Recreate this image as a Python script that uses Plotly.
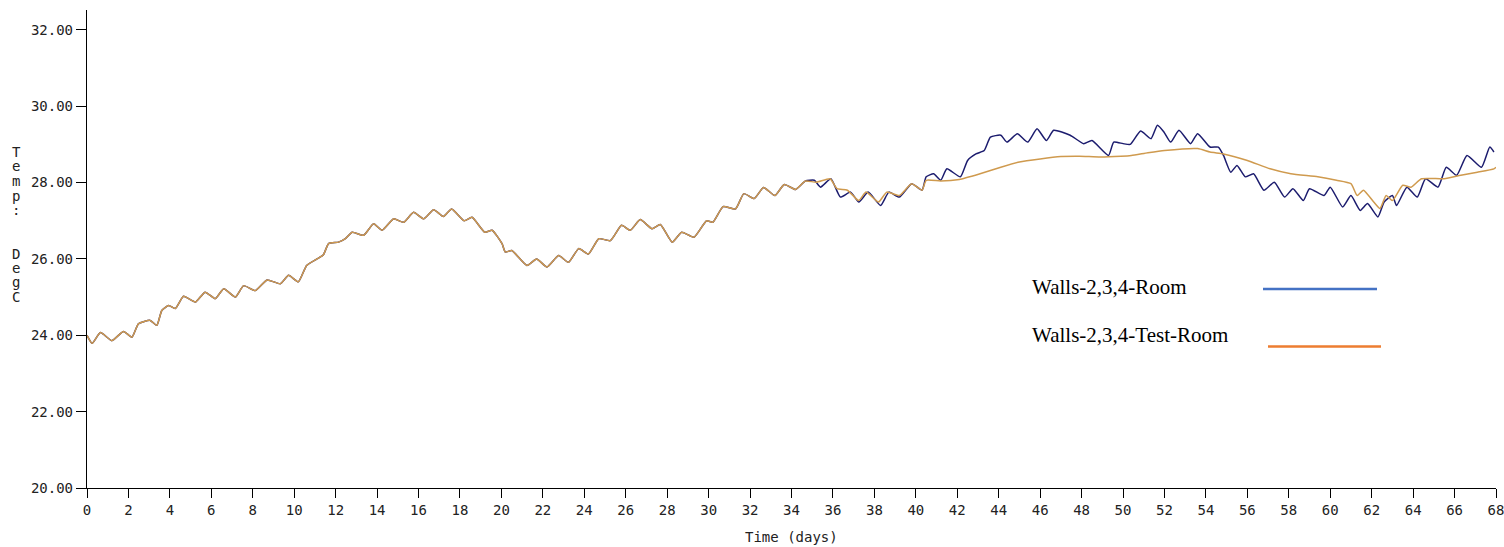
import plotly.graph_objects as go

# Temperature record shared by both rooms up to day ~34 (the curves coincide there)
shared_days = [0, 0.25, 0.65, 1.2, 1.76, 2.17, 2.48, 3.05, 3.37, 3.61, 3.94, 4.26, 4.66,
               5.23, 5.7, 6.19, 6.6, 7.16, 7.56, 8.12, 8.69, 9.33, 9.73, 10.2, 10.6, 11.1,
               11.4, 11.66, 12.14, 12.47, 12.8, 13.35, 13.83, 14.24, 14.8, 15.28, 15.76,
               16.25, 16.73, 17.2, 17.6, 18.2, 18.58, 19.2, 19.55, 20.03, 20.19, 20.5,
               21.23, 21.7, 22.2, 22.76, 23.24, 23.73, 24.2, 24.7, 25.26, 25.8, 26.22,
               26.7, 27.27, 27.67, 28.24, 28.7, 29.3, 29.9, 30.2, 30.7, 31.3, 31.7, 32.2,
               32.65, 33.2, 33.65, 34.2, 34.67]
shared_temp = [24.0, 23.79, 24.07, 23.86, 24.1, 23.95, 24.3, 24.39, 24.26, 24.65, 24.78,
               24.7, 25.02, 24.87, 25.13, 24.96, 25.22, 25.0, 25.3, 25.17, 25.45, 25.35,
               25.57, 25.4, 25.83, 26.0, 26.1, 26.4, 26.44, 26.53, 26.7, 26.62, 26.92,
               26.75, 27.05, 26.96, 27.22, 27.05, 27.29, 27.11, 27.31, 27.0, 27.09, 26.7,
               26.75, 26.4, 26.18, 26.22, 25.83, 26.0, 25.79, 26.09, 25.91, 26.27, 26.13,
               26.53, 26.48, 26.88, 26.75, 27.03, 26.79, 26.9, 26.44, 26.7, 26.57, 27.0,
               26.96, 27.37, 27.31, 27.71, 27.58, 27.87, 27.66, 27.95, 27.82, 28.04]

# Walls-2,3,4-Room after the curves separate
room_tail_days = [35.1, 35.4, 35.9, 36.36, 36.85, 37.25, 37.7, 38.3, 38.7, 39.2, 39.8,
                  40.3, 40.5, 40.86, 41.2, 41.5, 42.15, 42.5, 42.9, 43.3, 43.6, 44.1,
                  44.4, 44.9, 45.4, 45.85, 46.3, 46.65, 47.45, 48.1, 48.5, 49.3, 49.55,
                  50.0, 50.35, 50.85, 51.35, 51.66, 51.98, 52.3, 52.7, 53.26, 53.6, 54.2,
                  54.6, 54.85, 55.2, 55.5, 55.9, 56.3, 56.8, 57.3, 57.8, 58.2, 58.7, 59.0,
                  59.7, 60.0, 60.6, 61.0, 61.45, 61.8, 62.3, 62.6, 63.0, 63.2, 63.7, 64.2,
                  64.6, 65.2, 65.6, 66.1, 66.6, 67.3, 67.7, 67.9]
room_tail_temp = [28.06, 27.88, 28.1, 27.62, 27.75, 27.49, 27.75, 27.4, 27.75, 27.62,
                  27.97, 27.8, 28.15, 28.23, 28.06, 28.36, 28.15, 28.58, 28.75, 28.84,
                  29.19, 29.24, 29.06, 29.28, 29.06, 29.41, 29.1, 29.37, 29.24, 29.02,
                  29.1, 28.71, 29.06, 29.02, 29.0, 29.35, 29.15, 29.5, 29.32, 29.06,
                  29.37, 29.02, 29.28, 28.93, 28.93, 28.71, 28.27, 28.45, 28.15, 28.23,
                  27.8, 28.01, 27.62, 27.84, 27.53, 27.84, 27.66, 27.88, 27.36, 27.66,
                  27.27, 27.45, 27.1, 27.49, 27.66, 27.4, 27.88, 27.62, 28.1, 27.88,
                  28.4, 28.19, 28.71, 28.4, 28.93, 28.8]

# Walls-2,3,4-Test-Room after the curves separate
test_tail_days = [35.2, 35.86, 36.2, 36.7, 37.24, 37.6, 38.2, 38.6, 39.2, 39.8, 40.3,
                  40.5, 41.2, 42.1, 43.1, 44.1, 45.0, 46.0, 47.0, 47.9, 48.9, 49.9, 50.4,
                  51.2, 52.0, 53.6, 54.2, 54.85, 56.0, 57.1, 58.1, 59.4, 60.3, 61.0, 61.3,
                  61.6, 62.1, 62.4, 62.7, 63.0, 63.5, 63.9, 64.4, 65.5, 66.3, 67.1, 67.9,
                  68.0]
test_tail_temp = [28.01, 28.1, 27.84, 27.8, 27.53, 27.75, 27.49, 27.75, 27.66, 27.97,
                  27.8, 28.06, 28.04, 28.08, 28.23, 28.4, 28.54, 28.62, 28.68, 28.69,
                  28.67, 28.69, 28.71, 28.78, 28.84, 28.89, 28.8, 28.75, 28.58, 28.36,
                  28.23, 28.15, 28.06, 27.97, 27.66, 27.8, 27.49, 27.32, 27.66, 27.53,
                  27.93, 27.88, 28.1, 28.1, 28.19, 28.27, 28.36, 28.4]

x_ticks = list(range(0, 69, 2))
y_ticks = [20, 22, 24, 26, 28, 30, 32]

room_days = shared_days + room_tail_days
room_temp = shared_temp + room_tail_temp
test_days = shared_days + test_tail_days
test_temp = shared_temp + test_tail_temp

MONO = "DejaVu Sans Mono"
TXT = dict(family=MONO, size=14, color="#222")

fig = go.Figure()
fig.add_trace(go.Scatter(x=room_days, y=room_temp, mode="lines",
                         line=dict(color="#1c1c6e", width=1.5, shape="spline", smoothing=0.5),
                         name="Walls-2,3,4-Room"))
fig.add_trace(go.Scatter(x=test_days, y=test_temp, mode="lines",
                         line=dict(color="#cf9a4e", width=1.5, shape="spline", smoothing=0.5),
                         name="Walls-2,3,4-Test-Room"))

fig.update_xaxes(range=[0, 68], tickvals=x_ticks, ticktext=[str(v) for v in x_ticks],
                 showline=True, linecolor="black", linewidth=1.3, ticks="outside",
                 ticklen=9, tickcolor="black", tickwidth=1.3, showgrid=False, zeroline=False,
                 tickfont=TXT, automargin=False, ticklabeloverflow="allow")
fig.update_yaxes(range=[20, 32.52], tickvals=y_ticks, ticktext=[f"{v:.2f}" for v in y_ticks],
                 showline=True, linecolor="black", linewidth=1.3, ticks="outside",
                 ticklen=10, tickcolor="black", tickwidth=1.3, showgrid=False, zeroline=False,
                 tickfont=TXT, automargin=False, ticklabeloverflow="allow")

# plot-area edges in pixels, used to place the text and swatches
L, R, T, B = 87, 1496, 10, 488


def px(xp):
    return (xp - L) / (R - L)


def py(yp):
    return (B - yp) / (B - T)


annotations = [dict(text="Time (days)", x=0.5, y=py(537), xref="paper", yref="paper",
                    xanchor="center", yanchor="middle", showarrow=False, font=TXT)]
# vertical stacked y-axis title
for i, ch in enumerate(["T", "e", "m", "p", ":", "", "", "D", "e", "g", "C"]):
    if ch:
        annotations.append(dict(text=ch, x=px(16), y=py(152 + 14.5 * i), xref="paper",
                                yref="paper", xanchor="center", yanchor="middle",
                                showarrow=False, font=TXT))

# legend block: serif labels with line swatches
SERIF = "Liberation Serif"
leg = [("Walls-2,3,4-Room", 287, "#4472c4", 1263, 1377, 289),
       ("Walls-2,3,4-Test-Room", 335, "#ed7d31", 1268, 1381, 346.5)]
shapes = []
for text, ty, col, x0, x1, ly in leg:
    annotations.append(dict(text=text, x=px(1030), y=py(ty), xref="paper", yref="paper",
                            xanchor="left", yanchor="middle", showarrow=False,
                            font=dict(family=SERIF, size=21, color="black")))
    shapes.append(dict(type="line", xref="paper", yref="paper", x0=px(x0), x1=px(x1),
                       y0=py(ly), y1=py(ly), line=dict(color=col, width=2.5)))

fig.update_layout(width=1504, height=547,
                  margin=dict(l=L, r=1504 - R, t=T, b=547 - B, autoexpand=False),
                  paper_bgcolor="white", plot_bgcolor="white", showlegend=False,
                  annotations=annotations, shapes=shapes)

fig.write_html("out.html")
